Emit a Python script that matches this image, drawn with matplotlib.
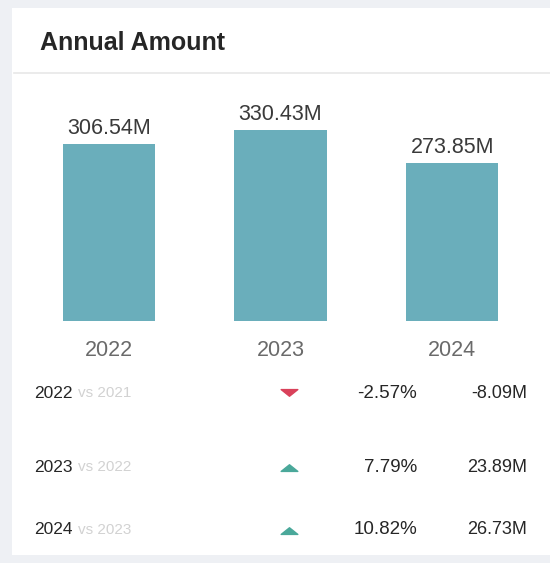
import matplotlib
matplotlib.use("Agg")
import matplotlib.pyplot as plt
from matplotlib.patches import Rectangle
from matplotlib.lines import Line2D
from matplotlib.path import Path

years = ["2022", "2023", "2024"]
amounts = [306.54, 330.43, 273.85]
amount_labels = ["306.54M", "330.43M", "273.85M"]
compare_labels = ["vs 2021", "vs 2022", "vs 2023"]
pct_changes = ["-2.57%", "7.79%", "10.82%"]
abs_changes = ["-8.09M", "23.89M", "26.73M"]
directions = ["down", "up", "up"]

W, H = 550, 563
fig = plt.figure(figsize=(W / 100, H / 100), dpi=100)
fig.patch.set_facecolor("#eef0f4")
FONT = "Liberation Sans"

def fx(px):
    return px / W

def fy(py):
    return 1 - py / H

# card
fig.patches.append(Rectangle((fx(12), fy(555)), fx(560) - fx(12), fy(8) - fy(555),
                             transform=fig.transFigure, facecolor="white", edgecolor="none",
                             zorder=-10))
# title and separator
fig.text(fx(40), fy(43), "Annual Amount", fontsize=18, fontweight="bold", color="#262626",
         va="center", ha="left", family=FONT)
fig.lines.append(Line2D([fx(14), fx(550)], [fy(73), fy(73)], transform=fig.transFigure,
                        color="#e8e8e8", lw=1.2, zorder=-5))

# bar chart
ax = fig.add_axes([fx(23), fy(321), fx(538) - fx(23), fy(100) - fy(321)])
ax.set_xlim(-0.5, 2.5)
ax.set_ylim(0, 382)
x = list(range(len(years)))
ax.bar(x, amounts, width=0.536, color="#6aaebb")
for xi, v, lab in zip(x, amounts, amount_labels):
    ax.text(xi, v + 8, lab, ha="center", va="bottom", fontsize=15.5, color="#3a3a3a",
            family=FONT)
ax.set_xticks(x)
ax.set_xticklabels(years, fontsize=15.5, color="#6a6a6a", family=FONT)
ax.tick_params(axis="x", length=0, pad=14)
ax.set_yticks([])
for s in ax.spines.values():
    s.set_visible(False)
ax.patch.set_alpha(0)

# triangle markers (flat)
up_tri = Path([(-1, -0.35), (1, -0.35), (0, 0.45), (-1, -0.35)],
              [Path.MOVETO, Path.LINETO, Path.LINETO, Path.CLOSEPOLY])
down_tri = Path([(-1, 0.35), (1, 0.35), (0, -0.45), (-1, 0.35)],
                [Path.MOVETO, Path.LINETO, Path.LINETO, Path.CLOSEPOLY])

# comparison table
row_y = [393, 467, 530]
for ry, yr, cmp, pct, ab, d in zip(row_y, years, compare_labels, pct_changes, abs_changes, directions):
    fig.text(fx(34), fy(ry), yr, fontsize=12.5, color="#262626", va="center", ha="left",
             family=FONT)
    fig.text(fx(78), fy(ry), cmp, fontsize=11, color="#d2d2d2", va="center", ha="left",
             family=FONT)
    if d == "down":
        fig.lines.append(Line2D([fx(289)], [fy(ry - 1)], transform=fig.transFigure, marker=down_tri,
                                markersize=12, color="#d9415a", linestyle="none"))
    else:
        fig.lines.append(Line2D([fx(289)], [fy(ry + 1)], transform=fig.transFigure, marker=up_tri,
                                markersize=12, color="#4aa89a", linestyle="none"))
    fig.text(fx(417), fy(ry), pct, fontsize=13.5, color="#262626", va="center", ha="right",
             family=FONT)
    fig.text(fx(527), fy(ry), ab, fontsize=13, color="#262626", va="center", ha="right",
             family=FONT)

fig.savefig("out.png", dpi=100, facecolor=fig.get_facecolor())
